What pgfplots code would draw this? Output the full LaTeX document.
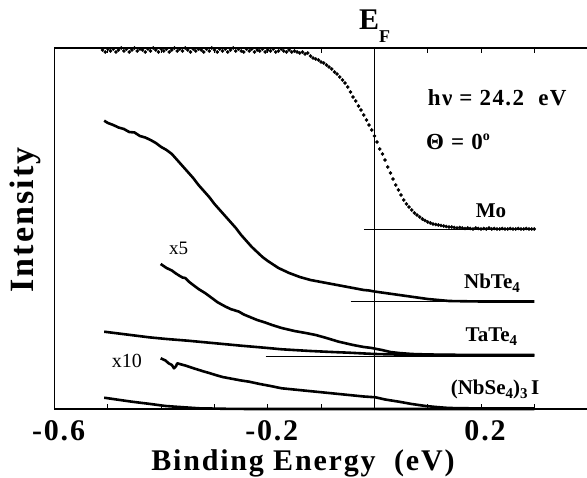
\documentclass[border=0pt]{standalone}
\usepackage{pgfplots}
\pgfplotsset{compat=1.18}
\usepackage{fontspec}
\setmainfont{Liberation Serif}
\newfontfamily\trk{Liberation Serif}[LetterSpace=6]

\begin{document}
\begin{tikzpicture}
\begin{axis}[
  x=533pt, y=1pt,
  xmin=-0.6, xmax=0.42, ymin=0, ymax=361,
  axis line style={line width=1.2pt},
  xtick={-0.6,-0.5,-0.4,-0.3,-0.2,-0.1,0,0.1,0.2,0.3,0.4},
  xticklabels={-0.6,,,,-0.2,,,,0.2,,},
  ytick=\empty,
  tick style={line width=1pt, black},
  major tick length=5pt,
  tick align=inside,
  xticklabel style={font=\trk\bfseries\fontsize{30}{30}\selectfont, inner sep=0pt, yshift=-11pt, xshift=4pt},
  clip=false,
]
\coordinate (bl) at (rel axis cs:0,0);

% Fermi level
\addplot[black, line width=1.1pt] coordinates {(0,0) (0,361)};

% reference baselines
\addplot[black, line width=0.9pt] coordinates {(-0.0197,180) (0.297,180)};
\addplot[black, line width=0.9pt] coordinates {(-0.0447,107.3) (0.297,107.3)};
\addplot[black, line width=0.9pt] coordinates {(-0.204,53) (0.297,53)};

% Mo (dots)
\addplot[black, only marks, mark=*, mark size=1.6pt] coordinates {
(-0.510,359) (-0.505,357) (-0.500,360) (-0.495,358) (-0.490,360) (-0.485,357) (-0.480,359) (-0.475,361)
(-0.470,358) (-0.465,360) (-0.460,357) (-0.455,359) (-0.450,361) (-0.445,358) (-0.440,360) (-0.435,359)
(-0.430,357) (-0.425,360) (-0.420,358) (-0.415,361) (-0.410,359) (-0.405,357) (-0.400,360) (-0.395,358)
(-0.390,360) (-0.385,357) (-0.380,359) (-0.375,361) (-0.370,358) (-0.365,360) (-0.360,358) (-0.355,361)
(-0.350,359) (-0.345,357) (-0.340,360) (-0.335,358) (-0.330,360) (-0.325,359) (-0.320,357) (-0.315,360)
(-0.310,358) (-0.305,361) (-0.300,359) (-0.295,357) (-0.290,360) (-0.285,358) (-0.280,360) (-0.275,357)
(-0.270,359) (-0.265,361) (-0.260,358) (-0.255,360) (-0.250,358) (-0.245,357) (-0.240,360) (-0.235,358)
(-0.230,360) (-0.225,357) (-0.220,359) (-0.215,358) (-0.210,360) (-0.205,357) (-0.200,359) (-0.195,358)
(-0.190,360) (-0.185,357) (-0.180,358) (-0.175,360) (-0.170,358) (-0.165,357) (-0.160,359) (-0.155,357)
(-0.150,358) (-0.145,357) (-0.140,356) (-0.135,357) (-0.130,355) (-0.125,356) (-0.120,353) (-0.115,351)
(-0.110,350) (-0.105,349) (-0.100,347) (-0.095,346) (-0.090,344) (-0.085,342) (-0.080,340) (-0.075,337)
(-0.070,335) (-0.065,332) (-0.060,329) (-0.055,326) (-0.050,322) (-0.045,317) (-0.040,312) (-0.035,308)
(-0.030,303) (-0.025,299) (-0.020,294) (-0.015,289) (-0.010,284) (-0.005,279) (0.000,273) (0.005,267)
(0.010,260) (0.015,255) (0.020,249) (0.025,242) (0.030,236) (0.035,230) (0.040,224) (0.045,219)
(0.050,214) (0.055,209) (0.060,205) (0.065,202) (0.070,199) (0.075,196) (0.080,194) (0.085,192)
(0.090,190) (0.095,188.5) (0.100,187) (0.105,186) (0.110,185) (0.115,184.5) (0.120,184) (0.125,183.5)
(0.130,183) (0.135,182.5) (0.140,182) (0.145,182) (0.150,181.5) (0.155,181) (0.160,181.5) (0.165,181)
(0.170,180.5) (0.175,181) (0.180,180.5) (0.185,180) (0.190,181) (0.195,180.5) (0.200,180) (0.205,180.5)
(0.210,180) (0.215,181) (0.220,180) (0.225,180.5) (0.230,180) (0.235,180) (0.240,180.5) (0.245,180)
(0.250,180) (0.255,180.5) (0.260,180) (0.265,180) (0.270,180.5) (0.275,180) (0.280,180) (0.285,180.5)
(0.290,180) (0.295,180) (0.300,180)
};

% NbTe4
\addplot[black, line width=2.6pt, line join=round] coordinates {
(-0.507,288.3) (-0.500,286) (-0.490,284) (-0.480,281.5) (-0.470,280) (-0.460,277) (-0.450,276.5)
(-0.440,273) (-0.430,271.5) (-0.420,269) (-0.410,266) (-0.400,262) (-0.390,259) (-0.380,255)
(-0.370,249) (-0.360,243) (-0.350,237) (-0.340,231) (-0.330,224) (-0.320,218) (-0.310,212)
(-0.300,205) (-0.290,199) (-0.280,193) (-0.270,187) (-0.260,181) (-0.250,174) (-0.240,168)
(-0.230,162) (-0.220,157) (-0.210,152) (-0.200,148) (-0.190,144.5) (-0.180,141) (-0.170,138.5)
(-0.160,136) (-0.150,134) (-0.140,132) (-0.130,130.5) (-0.120,129) (-0.110,128) (-0.100,127)
(-0.090,126) (-0.080,125) (-0.070,124) (-0.060,123) (-0.050,122) (-0.040,121) (-0.030,120)
(-0.020,119) (-0.010,118.5) (0.000,117.5) (0.020,116) (0.040,114.5) (0.060,113) (0.080,111.5)
(0.100,110) (0.120,109) (0.140,108) (0.160,107.8) (0.200,107.5) (0.250,107.5) (0.300,107.5)
};

% x5 curve
\addplot[black, line width=2.6pt, line join=round] coordinates {
(-0.401,145) (-0.390,141) (-0.380,138.5) (-0.373,135.7) (-0.365,133) (-0.360,131.5) (-0.355,131)
(-0.348,127.3) (-0.340,124) (-0.330,120) (-0.317,115.7) (-0.305,111) (-0.295,107) (-0.285,104)
(-0.279,102.3) (-0.270,100) (-0.254,97.3) (-0.245,94.5) (-0.235,92.3) (-0.220,89) (-0.205,86.5)
(-0.192,84) (-0.174,81) (-0.150,78) (-0.129,76) (-0.110,74) (-0.090,71) (-0.067,67.3) (-0.040,64)
(-0.020,62) (-0.005,61) (0.014,59) (0.030,57) (0.046,56) (0.070,55) (0.102,54.5) (0.150,54.2)
(0.200,54) (0.300,54)
};

% TaTe4
\addplot[black, line width=2.6pt, line join=round] coordinates {
(-0.507,77.3) (-0.480,75.5) (-0.450,73.5) (-0.423,71.7) (-0.390,70) (-0.350,68.3) (-0.298,65.7)
(-0.250,63.3) (-0.200,61) (-0.174,59.7) (-0.120,58) (-0.080,57) (-0.048,56.3) (0.000,55)
(0.040,54.5) (0.083,54) (0.150,53.7) (0.300,53.5)
};

% x10 curve
\addplot[black, line width=2.6pt, line join=round] coordinates {
(-0.401,50.7) (-0.392,48.5) (-0.386,45.7) (-0.380,44) (-0.376,40.7) (-0.372,43) (-0.370,45.7)
(-0.362,44.5) (-0.355,43.5) (-0.348,42.3) (-0.335,40) (-0.320,37.5) (-0.310,36) (-0.298,34)
(-0.285,32) (-0.270,30.5) (-0.250,28.5) (-0.235,27.3) (-0.215,25) (-0.195,23) (-0.174,20.7)
(-0.142,19) (-0.110,17.3) (-0.080,15.7) (-0.048,14) (-0.020,12.5) (0.002,11.7) (0.020,9.5)
(0.046,7.3) (0.070,5) (0.096,3) (0.120,1.8) (0.140,1) (0.200,0.5) (0.300,0.5)
};

% (NbSe4)3I
\addplot[black, line width=2.6pt, line join=round] coordinates {
(-0.507,11.3) (-0.480,9.2) (-0.455,7.3) (-0.420,5) (-0.392,3) (-0.360,1.8) (-0.329,0.7)
(-0.280,0.2) (-0.235,0) (0.300,0)
};

% text
\node[anchor=base west, inner sep=0pt, font=\bfseries\fontsize{30}{30}\selectfont] at (axis cs:-0.029,379) {E\raisebox{-13pt}{\fontsize{18}{18}\selectfont F}};
\node[anchor=base west, inner sep=0pt, font=\trk\bfseries\fontsize{23}{23}\selectfont] at (axis cs:0.100,303) {hν = 24.2\ \ eV};
\node[anchor=base west, inner sep=0pt, font=\trk\bfseries\fontsize{23}{23}\selectfont] at (axis cs:0.0966,259) {Θ = 0\raisebox{9pt}{\fontsize{14}{14}\selectfont o}};
\node[anchor=base west, inner sep=0pt, font=\bfseries\fontsize{21}{21}\selectfont] at (axis cs:0.190,191) {Mo};
\node[anchor=base west, inner sep=0pt, font=\bfseries\fontsize{21}{21}\selectfont] at (axis cs:0.168,120.7) {NbTe\raisebox{-4pt}{\fontsize{15}{15}\selectfont 4}};
\node[anchor=base west, inner sep=0pt, font=\bfseries\fontsize{21}{21}\selectfont] at (axis cs:0.171,67.3) {TaTe\raisebox{-4pt}{\fontsize{15}{15}\selectfont 4}};
\node[anchor=base west, inner sep=0pt, font=\bfseries\fontsize{21}{21}\selectfont] at (axis cs:0.143,14) {(NbSe\raisebox{-4pt}{\fontsize{15}{15}\selectfont 4})\raisebox{-4pt}{\fontsize{15}{15}\selectfont 3}\,I};
\node[anchor=base west, inner sep=0pt, font=\fontsize{19}{19}\selectfont] at (axis cs:-0.3856,154) {x5};
\node[anchor=base west, inner sep=0pt, font=\fontsize{20}{20}\selectfont] at (axis cs:-0.493,41.7) {x10};
\node[anchor=base, inner sep=0pt, font=\trk\bfseries\fontsize{30}{30}\selectfont] at (axis cs:-0.134,-62) {Binding\ Energy\ \ (eV)};
\node[anchor=base, rotate=90, inner sep=0pt, font=\trk\bfseries\fontsize{34}{34}\selectfont] at (axis cs:-0.639,189) {Intensity};
\end{axis}
\pgfresetboundingbox
\path ([shift={(-54.6pt,-69pt)}]bl) rectangle ([shift={(532.4pt,409pt)}]bl);
\end{tikzpicture}
\end{document}
